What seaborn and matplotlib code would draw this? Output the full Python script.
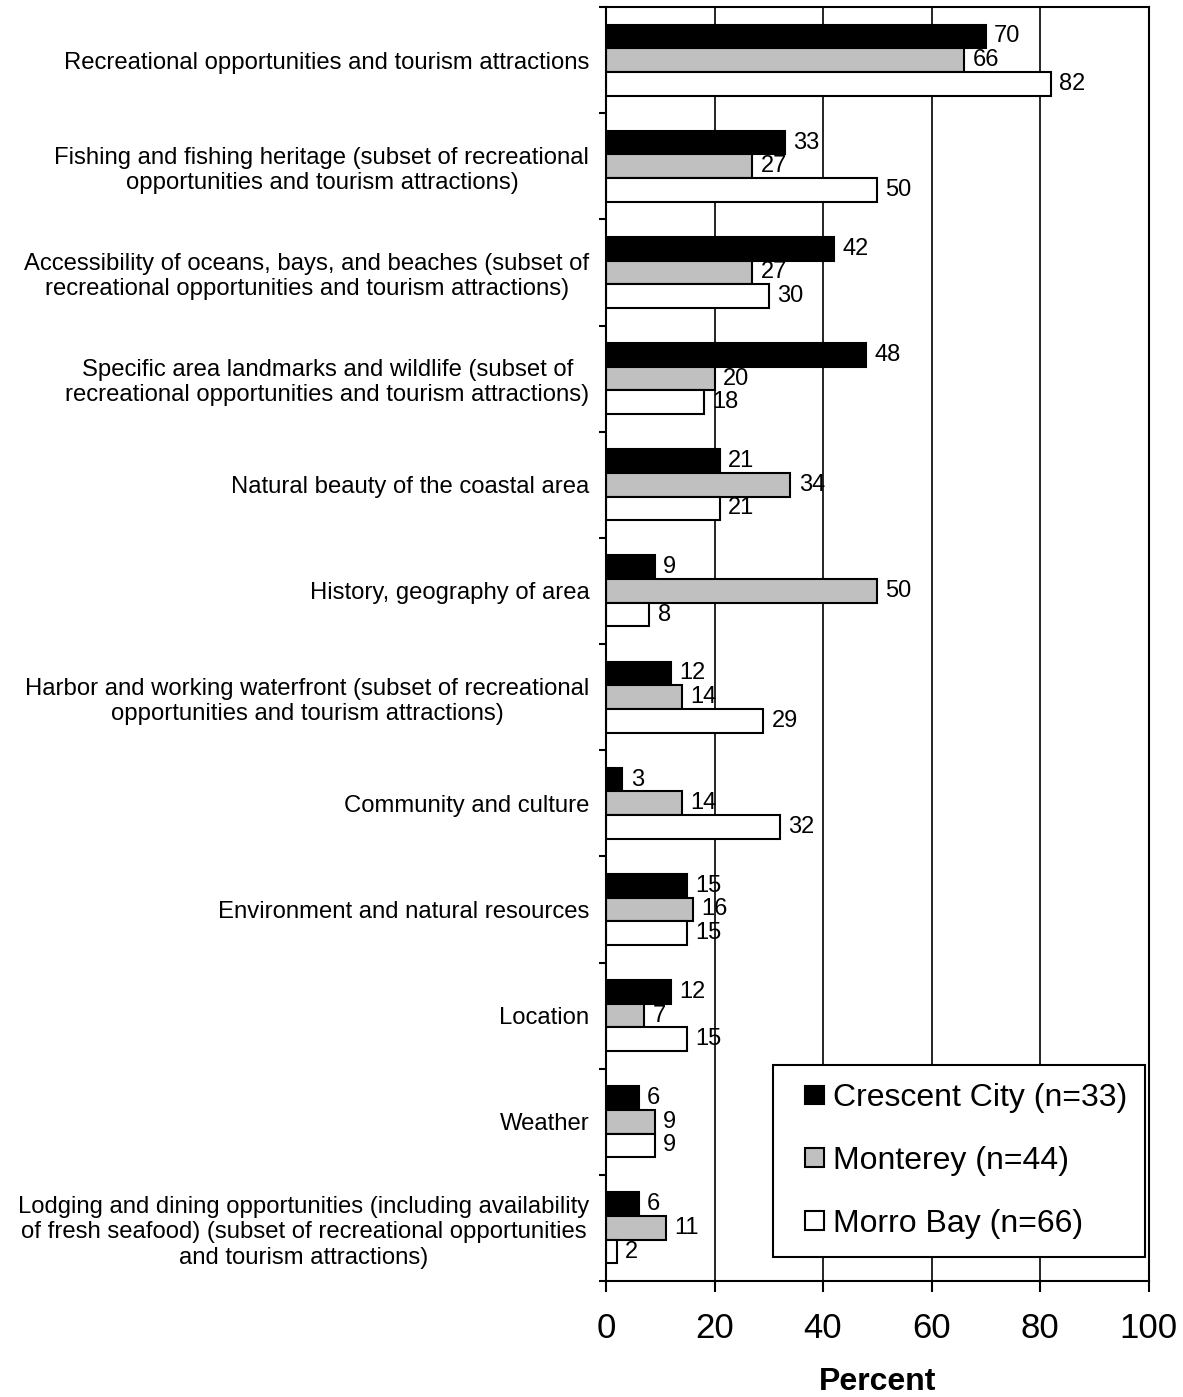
import matplotlib
matplotlib.use("Agg")
import matplotlib.pyplot as plt
import matplotlib.patches as mpatches
from matplotlib.legend_handler import HandlerPatch
import seaborn as sns
import pandas as pd
import numpy as np

categories = [
    "Recreational opportunities and tourism attractions",
    "Fishing and fishing heritage (subset of recreational\nopportunities and tourism attractions)",
    "Accessibility of oceans, bays, and beaches (subset of\nrecreational opportunities and tourism attractions)",
    "Specific area landmarks and wildlife (subset of\nrecreational opportunities and tourism attractions)",
    "Natural beauty of the coastal area",
    "History, geography of area",
    "Harbor and working waterfront (subset of recreational\nopportunities and tourism attractions)",
    "Community and culture",
    "Environment and natural resources",
    "Location",
    "Weather",
    "Lodging and dining opportunities (including availability\nof fresh seafood) (subset of recreational opportunities\nand tourism attractions)",
]
sites = ["Crescent City (n=33)", "Monterey (n=44)", "Morro Bay (n=66)"]
crescent_city = [70, 33, 42, 48, 21, 9, 12, 3, 15, 12, 6, 6]
monterey = [66, 27, 27, 20, 34, 50, 14, 14, 16, 7, 9, 11]
morro_bay = [82, 50, 30, 18, 21, 8, 29, 32, 15, 15, 9, 2]
x_ticks = [0, 20, 40, 60, 80, 100]

df = pd.DataFrame({
    "category": categories * 3,
    "site": [s for s in sites for _ in categories],
    "value": crescent_city + monterey + morro_bay,
})

sns.set_style("white")
plt.rcParams["font.family"] = ["Liberation Sans", "DejaVu Sans"]
for key in ["text.color", "axes.labelcolor", "xtick.color", "ytick.color"]:
    plt.rcParams[key] = "black"

fig = plt.figure(figsize=(11.83, 13.97), dpi=100)
ax = fig.add_axes([606 / 1183, 1 - 1281 / 1397, 542.5 / 1183, 1274 / 1397])

sns.barplot(data=df, y="category", x="value", hue="site", order=categories,
            hue_order=sites, palette=["black", "#c0c0c0", "white"],
            orient="h", width=0.67, gap=0, edgecolor="black", linewidth=1.5,
            saturation=1, ax=ax)

for cont in ax.containers:
    ax.bar_label(cont, fmt="%d", padding=6, fontsize=17)

ax.set_xlim(0, 100)
ax.set_xticks(x_ticks)
ax.set_axisbelow(True)
ax.grid(axis="x", color="black", linewidth=1.2)
ax.grid(axis="y", visible=False)

for side in ["left", "right", "top", "bottom"]:
    ax.spines[side].set_visible(True)
    ax.spines[side].set_color("black")
    ax.spines[side].set_linewidth(1.5)

ax.set_yticks(np.arange(-0.5, len(categories), 1), minor=True)
ax.tick_params(axis="y", which="major", length=0, pad=12, labelsize=17.2)
ax.tick_params(axis="y", which="minor", length=5, width=1.5, direction="out", left=True)
ax.tick_params(axis="x", which="major", length=8, width=1.5, direction="out",
               bottom=True, pad=14, labelsize=25)
for lbl in ax.get_yticklabels():
    lbl.set_multialignment("center")

ax.set_ylabel("")
ax.set_xlabel("Percent", fontsize=23, fontweight="bold", labelpad=16)


# small square legend keys sitting at the right of a wider key box
def small_square(legend, orig_handle, xdescent, ydescent, width, height, fontsize):
    s = 0.58 * fontsize
    return mpatches.Rectangle((width - s - xdescent, (height - s) / 2 - ydescent), s, s)


handles, labels = ax.get_legend_handles_labels()
leg = ax.legend(handles, labels, loc="lower right", bbox_to_anchor=(0.9935, 0.0188),
                borderaxespad=0, fontsize=23, frameon=True, fancybox=False,
                edgecolor="black", framealpha=1, handlelength=1.0, handleheight=0.7,
                handletextpad=0.28, labelspacing=1.03, borderpad=0.57,
                handler_map={mpatches.Rectangle: HandlerPatch(patch_func=small_square)})
leg.get_frame().set_linewidth(1.5)

fig.savefig("out.png", dpi=100)
